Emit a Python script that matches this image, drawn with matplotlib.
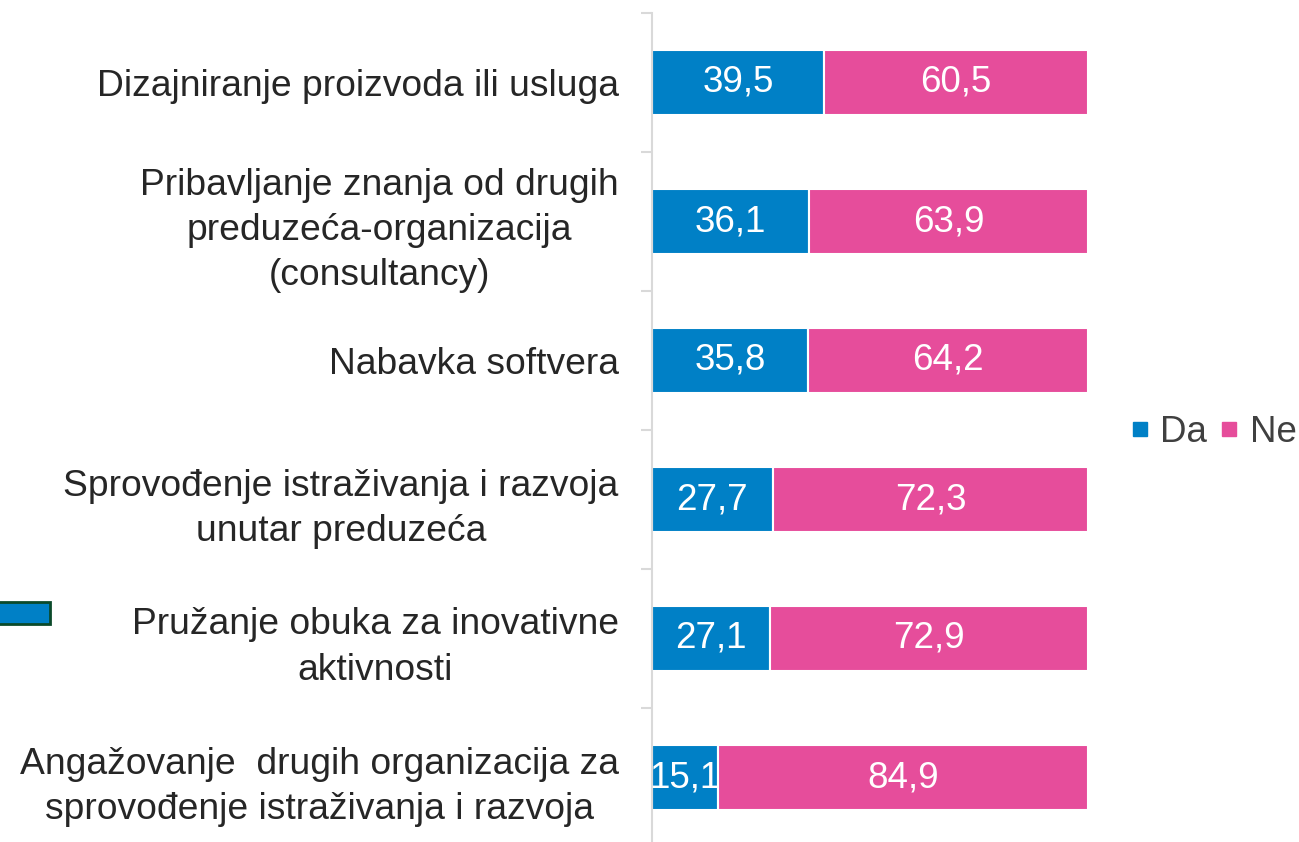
import matplotlib.pyplot as plt
import matplotlib.patches as mpatches
from matplotlib.lines import Line2D
import numpy as np

plt.rcParams['font.family'] = ['Liberation Sans', 'DejaVu Sans']

# Data, top to bottom
categories = [
    "Dizajniranje proizvoda ili usluga",
    "Pribavljanje znanja od drugih\npreduzeća-organizacija\n(consultancy)",
    "Nabavka softvera",
    "Sprovođenje istraživanja i razvoja\nunutar preduzeća",
    "Pružanje obuka za inovativne\naktivnosti",
    "Angažovanje  drugih organizacija za\nsprovođenje istraživanja i razvoja",
]
da = [39.5, 36.1, 35.8, 27.7, 27.1, 15.1]
ne = [60.5, 63.9, 64.2, 72.3, 72.9, 84.9]

blue = '#0080C6'
pink = '#E64D9B'
grid_grey = '#D9D9D9'
text_col = '#404040'
fs = 26.5

fig = plt.figure(figsize=(12.99, 8.42), dpi=100)
ax = fig.add_axes([652 / 1299, -5 / 842, (1088 - 652) / 1299, (847 - 13) / 842])

y = np.arange(len(categories))
ax.barh(y, da, height=0.47, color=blue, edgecolor='white', linewidth=1.5)
ax.barh(y, ne, left=da, height=0.47, color=pink, edgecolor='white', linewidth=1.5)

for i in range(len(categories)):
    ax.text(da[i] / 2, y[i], f"{da[i]:.1f}".replace('.', ','), ha='center', va='center',
            color='white', fontsize=fs)
    ax.text(da[i] + ne[i] / 2, y[i], f"{ne[i]:.1f}".replace('.', ','), ha='center', va='center',
            color='white', fontsize=fs)

ax.set_xlim(0, 100)
ax.set_ylim(len(categories) - 0.5, -0.5)
ax.set_yticks(y)
ax.set_yticklabels(categories, fontsize=26.8, color='#262626', multialignment='center',
                   linespacing=1.38)
ax.set_yticks(np.arange(-0.5, len(categories) + 0.5, 1), minor=True)
ax.tick_params(axis='y', which='major', length=0, pad=24)
ax.tick_params(axis='y', which='minor', length=8, width=1.5, color=grid_grey)
ax.set_xticks([])
for s in ['top', 'right', 'bottom']:
    ax.spines[s].set_visible(False)
ax.spines['left'].set_color(grid_grey)
ax.spines['left'].set_linewidth(1.5)

handles = [
    Line2D([], [], marker='s', linestyle='none', color=blue, markersize=9.5),
    Line2D([], [], marker='s', linestyle='none', color=pink, markersize=9.5),
]
fig.legend(handles, ['Da', 'Ne'], loc='center left', bbox_to_anchor=(1131 / 1299, 1 - 432 / 842),
           ncol=2, frameon=False, fontsize=fs, handlelength=0.5, handletextpad=0.3,
           columnspacing=0.35, labelcolor=text_col, borderaxespad=0, borderpad=0)

# stray shape at the left edge
fig.patches.append(mpatches.Rectangle((-10 / 1299, 1 - 624 / 842), 60 / 1299, 22 / 842,
                                      transform=fig.transFigure, facecolor=blue,
                                      edgecolor='#0B4A2A', linewidth=2))

fig.savefig('out.png', dpi=100)
